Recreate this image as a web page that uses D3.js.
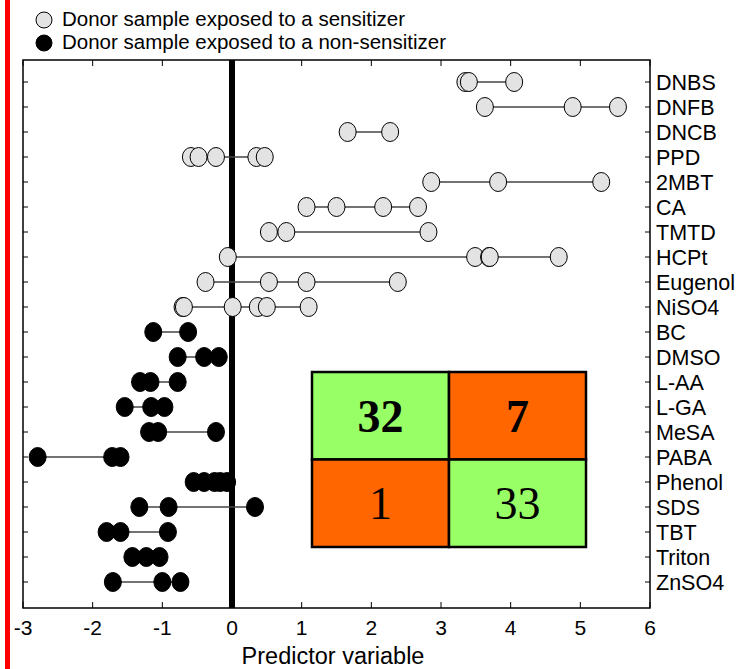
<!DOCTYPE html>
<html>
<head>
<meta charset="utf-8">
<script src="https://cdn.jsdelivr.net/npm/d3@7"></script>
<style>
  body { margin: 0; background: #fff; }
  text { font-family: "Liberation Sans", Arial, sans-serif; }
</style>
</head>
<body>
<div id="graph"></div>
<script>
let width = 741, height = 669;

// chemicals, top to bottom
let chemicals = ["DNBS", "DNFB", "DNCB", "PPD", "2MBT", "CA", "TMTD", "HCPt", "Eugenol", "NiSO4",
  "BC", "DMSO", "L-AA", "L-GA", "MeSA", "PABA", "Phenol", "SDS", "TBT", "Triton", "ZnSO4"];

// sensitizer flag per chemical
let sensitizer = [1, 1, 1, 1, 1, 1, 1, 1, 1, 1, 0, 0, 0, 0, 0, 0, 0, 0, 0, 0, 0];

// predictor values per donor sample
let predictor = [
  [3.35, 3.40, 4.05],
  [3.63, 4.89, 5.54],
  [1.66, 2.27],
  [-0.59, -0.48, -0.23, 0.35, 0.47],
  [2.86, 3.82, 5.30],
  [1.07, 1.50, 2.17, 2.67],
  [0.53, 0.78, 2.82],
  [-0.06, 3.49, 3.69, 3.70, 4.69],
  [-0.38, 0.53, 1.07, 2.38],
  [-0.71, -0.69, 0.01, 0.37, 0.50, 1.10],
  [-1.13, -0.63],
  [-0.78, -0.40, -0.19],
  [-1.32, -1.17, -0.78],
  [-1.54, -1.16, -0.97],
  [-1.19, -1.06, -0.23],
  [-2.79, -1.72, -1.60],
  [-0.55, -0.40, -0.25, -0.17, -0.07],
  [-1.33, -0.91, 0.33],
  [-1.80, -1.60, -0.92],
  [-1.43, -1.23, -1.04],
  [-1.71, -1.00, -0.74]
];

let xTicks = [-3, -2, -1, 0, 1, 2, 3, 4, 5, 6];
let legendLabels = ["Donor sample exposed to a sensitizer", "Donor sample exposed to a non-sensitizer"];

// confusion matrix
let matrixValues = [[32, 7], [1, 33]];
let matrixBold = [[true, true], [false, false]];

let plotLeft = 23, plotRight = 650, plotTop = 60, plotBottom = 608;

let svg = d3.select("#graph").append("svg")
  .attr("width", width)
  .attr("height", height);

let x = d3.scaleLinear().domain([-3, 6]).range([plotLeft, plotRight]);
let y = d3.scaleLinear().domain([0, chemicals.length - 1]).range([82, 582]);

// frame
svg.append("rect")
  .attr("x", plotLeft).attr("y", plotTop)
  .attr("width", plotRight - plotLeft).attr("height", plotBottom - plotTop)
  .attr("fill", "none").attr("stroke", "black").attr("stroke-width", 1.5);

// x ticks (top and bottom, inward)
let ticks = svg.append("g");
xTicks.forEach(t => {
  ticks.append("line").attr("x1", x(t)).attr("x2", x(t)).attr("y1", plotTop).attr("y2", plotTop + 6)
    .attr("stroke", "black");
  ticks.append("line").attr("x1", x(t)).attr("x2", x(t)).attr("y1", plotBottom).attr("y2", plotBottom - 6)
    .attr("stroke", "black");
  ticks.append("text")
    .attr("x", x(t)).attr("y", plotBottom + 27)
    .attr("text-anchor", "middle")
    .style("font-size", "21px")
    .text(t);
});

// y ticks (left and right, inward) + labels
chemicals.forEach((c, i) => {
  ticks.append("line").attr("x1", plotLeft).attr("x2", plotLeft + 5).attr("y1", y(i)).attr("y2", y(i))
    .attr("stroke", "black");
  ticks.append("line").attr("x1", plotRight).attr("x2", plotRight - 5).attr("y1", y(i)).attr("y2", y(i))
    .attr("stroke", "black");
  ticks.append("text")
    .attr("x", plotRight + 6).attr("y", y(i) + 7.5)
    .style("font-size", "21.5px")
    .text(c);
});

// axis title
svg.append("text")
  .attr("x", 333).attr("y", 664)
  .attr("text-anchor", "middle")
  .style("font-size", "23.5px")
  .text("Predictor variable");

// zero line
svg.append("line")
  .attr("x1", x(0)).attr("x2", x(0))
  .attr("y1", plotTop).attr("y2", plotBottom)
  .attr("stroke", "black").attr("stroke-width", 6);

// rows
let rows = svg.append("g").selectAll("g")
  .data(predictor)
  .enter().append("g");

rows.append("line")
  .attr("x1", d => x(d3.min(d)))
  .attr("x2", d => x(d3.max(d)))
  .attr("y1", (d, i) => y(i))
  .attr("y2", (d, i) => y(i))
  .attr("stroke", "#444")
  .attr("stroke-width", 1.3);

rows.each(function(d, i) {
  d3.select(this).selectAll("ellipse")
    .data(d)
    .enter().append("ellipse")
    .attr("cx", v => x(v))
    .attr("cy", y(i))
    .attr("rx", 8.5)
    .attr("ry", 9.5)
    .attr("fill", sensitizer[i] ? "#e3e3e3" : "black")
    .attr("stroke", "black")
    .attr("stroke-width", 1);
});

// matrix inset
let mx = d3.scaleLinear().domain([0, 2]).range([312, 586]);
let my = d3.scaleLinear().domain([0, 2]).range([372, 547]);
let matrix = svg.append("g");
matrixValues.forEach((row, r) => {
  row.forEach((v, c) => {
    matrix.append("rect")
      .attr("x", mx(c)).attr("y", my(r))
      .attr("width", mx(c + 1) - mx(c)).attr("height", my(r + 1) - my(r))
      .attr("fill", r == c ? "#99ff66" : "#ff6600")
      .attr("stroke", "black").attr("stroke-width", 2.5);
    matrix.append("text")
      .attr("x", (mx(c) + mx(c + 1)) / 2)
      .attr("y", (my(r) + my(r + 1)) / 2 + 16)
      .attr("text-anchor", "middle")
      .style("font-family", "'Liberation Serif', 'Times New Roman', serif")
      .style("font-size", "46px")
      .style("font-weight", matrixBold[r][c] ? "bold" : "normal")
      .text(v);
  });
});

// legend
let legend = svg.append("g");
legendLabels.forEach((l, i) => {
  legend.append("circle")
    .attr("cx", 44).attr("cy", 20 + i * 23).attr("r", 8)
    .attr("fill", i == 0 ? "#e3e3e3" : "black")
    .attr("stroke", "black").attr("stroke-width", 1);
  legend.append("text")
    .attr("x", 62).attr("y", 26 + i * 23)
    .style("font-size", "20.5px")
    .text(l);
});

// red bar on the left edge
svg.append("rect")
  .attr("x", 5).attr("y", 0)
  .attr("width", 5).attr("height", height)
  .attr("fill", "#ff0000");
</script>
</body>
</html>
